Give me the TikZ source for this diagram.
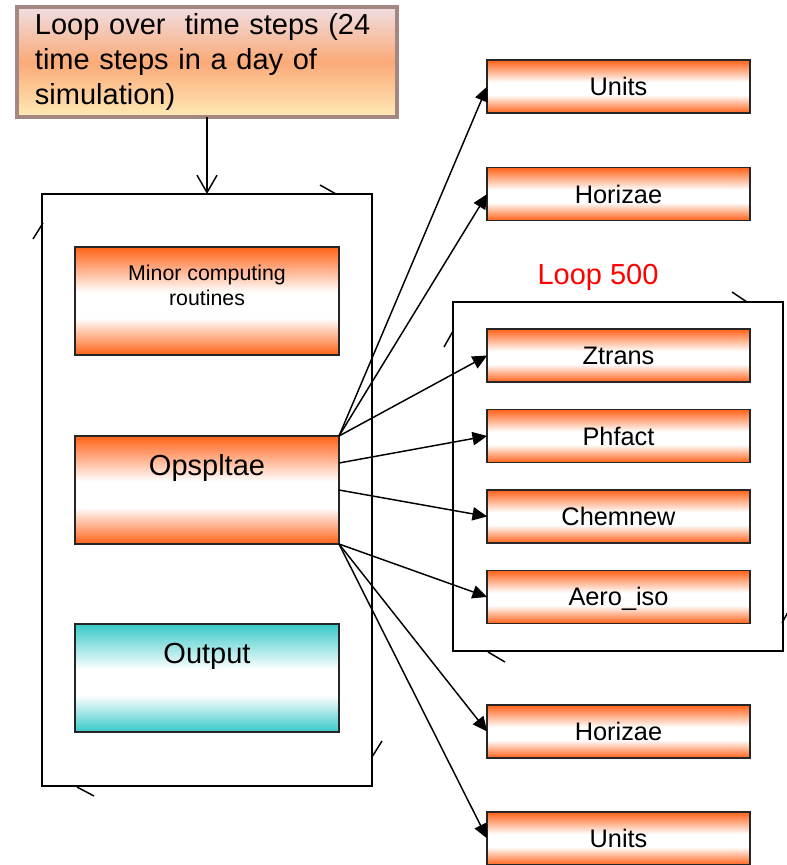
\documentclass[tikz,border=0pt]{standalone}
\usepackage{fontspec}
\setmainfont{Liberation Sans}
\usetikzlibrary{arrows.meta,positioning}

\definecolor{orgA}{RGB}{255,98,24}
\definecolor{tealA}{RGB}{56,200,200}
\definecolor{peachTop}{RGB}{240,222,226}
\definecolor{peachMid}{RGB}{250,170,120}
\definecolor{peachBot}{RGB}{255,234,182}
\definecolor{bevel}{RGB}{165,135,130}

\pgfdeclareverticalshading{orangebar}{100bp}{color(0bp)=(orgA); color(25bp)=(orgA); color(42bp)=(white); color(54bp)=(white); color(75bp)=(orgA); color(100bp)=(orgA)}
\pgfdeclareverticalshading{tealbar}{100bp}{color(0bp)=(tealA); color(25bp)=(tealA); color(42bp)=(white); color(54bp)=(white); color(75bp)=(tealA); color(100bp)=(tealA)}

\begin{document}
\begin{tikzpicture}[x=0.75pt, y=-0.75pt,
    topbox/.style={draw=bevel, line width=2.5pt, top color=peachTop, bottom color=peachBot, middle color=peachMid, minimum width=285pt, minimum height=82.5pt, text width=258pt, align=left, inner sep=0pt, outer sep=0pt, font=\fontsize{21.75}{26.25}\selectfont},
    block/.style={draw=black!85, line width=1.2pt, shade, shading=orangebar, minimum width=198pt, minimum height=81pt, inner sep=0pt, outer sep=0pt, text height=29.25pt, text depth=51.75pt, font=\fontsize{21.75}{26}\selectfont},
    routine/.style={draw=black!85, line width=1.1pt, shade, shading=orangebar, minimum width=197pt, minimum height=39.75pt, inner sep=0pt, outer sep=0pt, text height=13.6pt, text depth=0pt, font=\fontsize{19}{22}\selectfont},
    loopframe/.style={draw, line width=1.2pt, inner sep=0pt, outer sep=0pt},
    link/.style={line width=1.1pt, -{Triangle[length=11pt,width=10pt]}},
    stub/.style={line width=1.1pt}]
  \useasboundingbox (0,0) rectangle (787,865);

  % outer time loop
  \node[topbox] (timeloop) at (207,62) {Loop over\ \ time steps (24\\time steps in a day of\\simulation)};
  \node[loopframe, minimum width=247.5pt, minimum height=444pt] (daybox) at (207,490) {};
  \node[block, align=center, font=\fontsize{16}{18.75}\selectfont, text height=42.75pt, text depth=36.75pt] (minor) at (207,301) {Minor computing\\routines};
  \node[block] (ops) at (207,490) {Opspltae};
  \node[block, shading=tealbar] (output) at (207,678) {Output};

  % called routines
  \node[routine] (units1) at (618.5,86.5) {Units};
  \node[routine] (horiz1) at (618.5,194) {Horizae};
  \node[loopframe, minimum width=247.5pt, minimum height=261.75pt] (innerloop) at (618,476.5) {};
  \node[text=red, font=\fontsize{21.75}{26}\selectfont] (looplabel) at (598,277) {Loop 500};
  \node[routine] (ztrans) at (618.5,355.5) {Ztrans};
  \node[routine, below=20.6pt of ztrans] (phfact) {Phfact};
  \node[routine, below=20.6pt of phfact] (chemnew) {Chemnew};
  \node[routine, below=20.6pt of chemnew] (aero) {Aero\_iso};
  \node[routine] (horiz2) at (618.5,731.5) {Horizae};
  \node[routine] (units2) at (618.5,838.5) {Units};

  \draw[line width=1.1pt, -{Straight Barb[length=13pt,width=15pt]}] (timeloop.south) -- (daybox.north);

  \draw[link] (ops.north east) -- (units1.west);
  \draw[link] (ops.north east) -- (horiz1.west);
  \draw[link] (ops.north east) -- (ztrans.west);
  \draw[link] ([yshift=20.25pt]ops.east) -- (phfact.west);
  \draw[link] (ops.east) -- (chemnew.west);
  \draw[link] (ops.south east) -- (aero.west);
  \draw[link] (ops.south east) -- (horiz2.west);
  \draw[link] (ops.south east) -- (units2.west);

  % little edge marks
  \draw[stub] (320,185) -- (336,194);
  \draw[stub] (33,239) -- (43,223);
  \draw[stub] (77,787) -- (94,796);
  \draw[stub] (372,757) -- (382,741);
  \draw[stub] (732,292) -- (747,302);
  \draw[stub] (444,347) -- (453,331);
  \draw[stub] (488,652) -- (505,662);
  \draw[stub] (782,623) -- (788,612);
\end{tikzpicture}
\end{document}
